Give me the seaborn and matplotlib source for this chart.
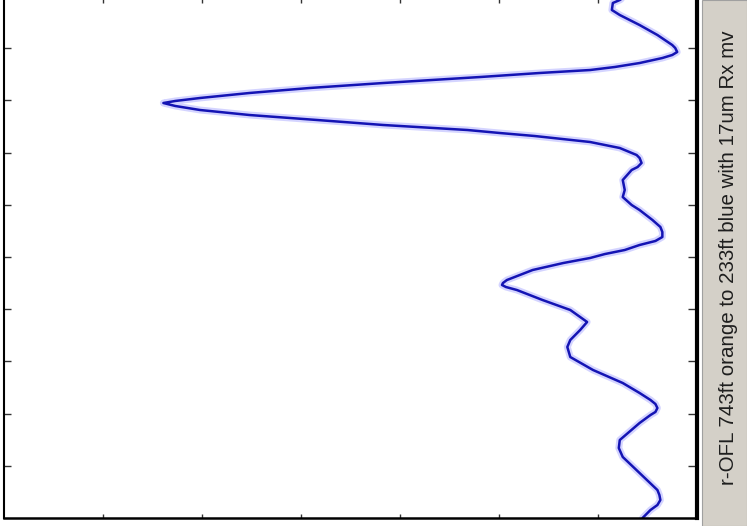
import numpy as np
import pandas as pd
import matplotlib
matplotlib.use("Agg")
import matplotlib.pyplot as plt
from matplotlib.patches import Rectangle
import seaborn as sns

# trace, in scope divisions (time runs down the page)
time_div = [0.0, 0.077, 0.134, 0.268, 0.364, 0.556, 0.747, 0.939, 0.996, 1.073,
            1.130, 1.188, 1.284, 1.360, 1.418, 1.475, 1.552, 1.667, 1.762, 1.858,
            1.954, 2.011, 2.050, 2.107, 2.184, 2.280, 2.375, 2.471, 2.567, 2.625,
            2.682, 2.797, 2.912, 3.046, 3.103, 3.199, 3.276, 3.333, 3.525, 3.716,
            3.851, 4.004, 4.100, 4.291, 4.425, 4.521, 4.617, 4.693, 4.770, 4.866,
            4.943, 5.019, 5.115, 5.249, 5.441, 5.498, 5.536, 5.575, 5.632, 5.824,
            6.015, 6.245, 6.398, 6.590, 6.724, 6.916, 7.165, 7.414, 7.605, 7.739,
            7.816, 7.893, 7.969, 8.027, 8.180, 8.506, 8.659, 8.831, 9.138, 9.464,
            9.559, 9.655, 9.751, 9.847, 10.0]
level_div = [6.28, 6.22, 6.15, 6.14, 6.22, 6.42, 6.60, 6.75, 6.78, 6.80,
             6.75, 6.65, 6.42, 6.17, 5.92, 5.41, 4.81, 3.83, 3.09, 2.48,
             1.98, 1.73, 1.61, 1.73, 1.98, 2.48, 3.16, 3.83, 4.68, 5.01,
             5.36, 5.92, 6.22, 6.39, 6.42, 6.44, 6.40, 6.34, 6.25, 6.27,
             6.25, 6.34, 6.42, 6.55, 6.63, 6.65, 6.65, 6.58, 6.42, 6.27,
             6.07, 5.92, 5.65, 5.34, 5.08, 5.04, 5.03, 5.07, 5.18, 5.44,
             5.72, 5.89, 5.82, 5.72, 5.69, 5.72, 5.95, 6.25, 6.42, 6.53,
             6.58, 6.60, 6.58, 6.53, 6.42, 6.22, 6.21, 6.25, 6.42, 6.60,
             6.62, 6.63, 6.60, 6.53, 6.45]
caption = "r-OFL 743ft orange to 233ft blue with 17um Rx mv"

df = pd.DataFrame({"level": level_div, "time": time_div})

sns.set_theme(style="white")
plt.rcParams["font.family"] = ["Liberation Sans", "DejaVu Sans"]

W, H = 747, 526
fig = plt.figure(figsize=(W / 100, H / 100), dpi=100)
# axes box in pixels: x 4..697, y -4..518 (top is cut off by the crop)
ax = fig.add_axes([4 / W, (H - 518) / H, 693 / W, 522 / H])

# soft halo then the trace itself
sns.lineplot(data=df, x="level", y="time", orient="y", estimator=None,
             color="#d4d4ff", linewidth=5, ax=ax)
sns.lineplot(data=df, x="level", y="time", orient="y", estimator=None,
             color="#1414b4", linewidth=1.8, ax=ax)

ax.set_xlim(0, 7)
ax.set_ylim(10, 0)
ax.set_xticks(range(1, 7))
ax.set_yticks(range(1, 10))
ax.set_xlabel("")
ax.set_ylabel("")
ax.tick_params(left=True, right=True, top=True, bottom=True,
               labelleft=False, labelbottom=False, direction="in",
               width=1.0, color="#333333")
ax.tick_params(axis="y", length=5)
ax.tick_params(axis="x", length=3)
for t in ax.yaxis.get_major_ticks():
    t.tick2line.set_markersize(6.5)
for t in ax.xaxis.get_major_ticks():
    t.tick2line.set_markersize(5)
    t.tick2line.set_color("#999999")

ax.spines["top"].set_visible(False)
ax.spines["left"].set_linewidth(1.5)
ax.spines["bottom"].set_linewidth(1.8)
ax.spines["right"].set_linewidth(3)
for s in ax.spines.values():
    s.set_color("black")

# grey side panel with the caption
fig.patches.append(Rectangle((702 / W, 0), 45 / W, 1, transform=fig.transFigure,
                             facecolor="#d4d0c8", edgecolor="#a0a0a0",
                             linewidth=0.8, zorder=-1))
fig.text(728 / W, 1 - 258 / H, caption, rotation=90, ha="center", va="center",
         fontsize=14.8, color="#1e1e1e")

fig.savefig("out.png", dpi=100)
